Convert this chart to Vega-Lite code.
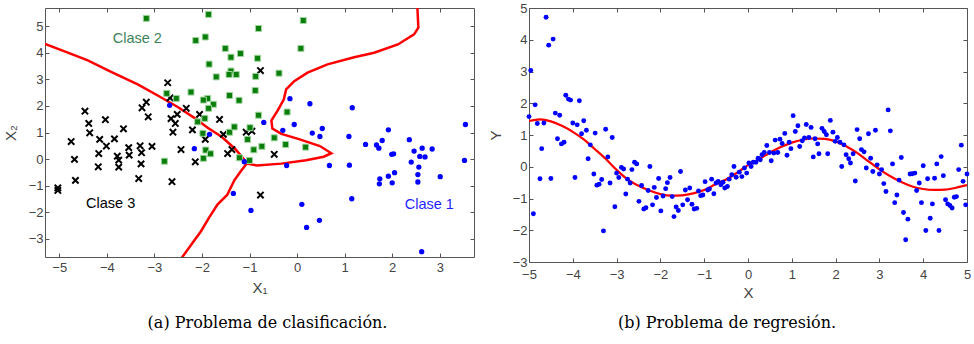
{
  "$schema": "https://vega.github.io/schema/vega-lite/v6.json",
  "padding": {"left": 2, "top": 1, "right": 0, "bottom": 0},
  "background": "white",
  "bounds": "flush",
  "spacing": 55,
  "config": {
    "view": {"stroke": "#555", "strokeWidth": 1},
    "axis": {"grid": false, "domain": false, "tickColor": "#555", "tickSize": -4, "labelFont": "Liberation Sans", "labelFontSize": 13, "labelColor": "#444", "titleFont": "Liberation Sans", "titleFontSize": 15, "titleFontWeight": "normal", "titleColor": "#444", "labelFlush": false, "labelOverlap": false},
    "title": {"font": "DejaVu Serif", "fontSize": 16, "fontWeight": "normal", "color": "#000"}
  },
  "datasets": {
    "c1": [
      {"x": -2.68, "y": 2.02}, {"x": -1.84, "y": 0.93}, {"x": -2.16, "y": 0.39}, {"x": -1.11, "y": -0.1}, {"x": -1.34, "y": -1.29}, {"x": -0.97, "y": -1.93},
      {"x": -0.15, "y": 2.27}, {"x": 0.27, "y": 2.08}, {"x": 1.16, "y": 1.93}, {"x": -0.7, "y": 1.38}, {"x": -0.3, "y": 1.08}, {"x": -0.06, "y": 1.3},
      {"x": 0.32, "y": 0.98}, {"x": 0.53, "y": 1.15}, {"x": 0.48, "y": 0.85}, {"x": 1.09, "y": 0.85}, {"x": 1.92, "y": 1.1}, {"x": 1.44, "y": 0.55},
      {"x": 1.67, "y": 0.53}, {"x": 1.72, "y": 0.41}, {"x": 1.79, "y": 0.7}, {"x": 2.36, "y": 0.73}, {"x": 2.46, "y": 0.3}, {"x": 2.63, "y": 0.41},
      {"x": 2.84, "y": 0.38}, {"x": 3.54, "y": 1.3}, {"x": -0.22, "y": -0.24}, {"x": 0.68, "y": -0.24}, {"x": 1.1, "y": -0.23}, {"x": 0.1, "y": -1.7},
      {"x": 1.15, "y": -1.49}, {"x": 0.47, "y": -2.3}, {"x": 0.2, "y": -2.57}, {"x": 1.99, "y": 0.18}, {"x": 2.03, "y": 0.2}, {"x": 2.58, "y": 0.1},
      {"x": 2.69, "y": 0.08}, {"x": 2.4, "y": -0.11}, {"x": 2.56, "y": -0.3}, {"x": 2.05, "y": -0.51}, {"x": 1.92, "y": -0.64}, {"x": 1.74, "y": -0.74},
      {"x": 1.73, "y": -0.93}, {"x": 2.0, "y": -0.89}, {"x": 2.54, "y": -0.58}, {"x": 2.54, "y": -0.86}, {"x": 3.01, "y": -0.66}, {"x": 3.52, "y": -0.05},
      {"x": 2.62, "y": -3.48}
    ],
    "c2": [
      {"x": -3.17, "y": 5.29}, {"x": -1.86, "y": 5.44}, {"x": -1.93, "y": 4.59}, {"x": -2.13, "y": 4.46}, {"x": -1.51, "y": 4.16}, {"x": -1.39, "y": 3.83},
      {"x": -1.19, "y": 3.97}, {"x": -1.85, "y": 3.57}, {"x": -1.7, "y": 3.09}, {"x": -1.39, "y": 3.31}, {"x": -1.43, "y": 3.18}, {"x": -1.28, "y": 3.18},
      {"x": -2.23, "y": 2.52}, {"x": -2.74, "y": 2.47}, {"x": -2.54, "y": 2.28}, {"x": -1.88, "y": 2.28}, {"x": -1.97, "y": 2.22}, {"x": -1.76, "y": 2.06},
      {"x": -1.86, "y": 1.91}, {"x": -1.42, "y": 2.39}, {"x": -1.22, "y": 2.21}, {"x": -2.09, "y": 1.4}, {"x": -1.94, "y": 1.53}, {"x": -1.98, "y": 0.97},
      {"x": -1.42, "y": 1.01}, {"x": -1.32, "y": 1.21}, {"x": -1.04, "y": 0.74}, {"x": -1.92, "y": 0.34}, {"x": 0.13, "y": 5.21}, {"x": -0.81, "y": 4.91},
      {"x": 0.08, "y": 4.16}, {"x": -0.83, "y": 3.79}, {"x": -0.87, "y": 3.11}, {"x": -0.38, "y": 3.23}, {"x": -0.88, "y": 2.58}, {"x": -0.21, "y": 1.77},
      {"x": -0.81, "y": 1.65}, {"x": -0.48, "y": 0.8}, {"x": -0.24, "y": 0.55}, {"x": -0.74, "y": 0.48}, {"x": 0.18, "y": 0.45}, {"x": -0.91, "y": 0.35},
      {"x": -0.99, "y": 1.18}, {"x": -2.79, "y": -0.08}, {"x": -1.82, "y": 0.2}, {"x": -1.97, "y": 0.03}, {"x": -1.21, "y": 0.05}, {"x": -1.0, "y": -0.05}
    ],
    "c3": [
      {"x": -2.72, "y": 2.87}, {"x": -2.67, "y": 2.3}, {"x": -3.17, "y": 2.14}, {"x": -3.26, "y": 1.93}, {"x": -3.13, "y": 1.59}, {"x": -4.46, "y": 1.8},
      {"x": -4.38, "y": 1.34}, {"x": -4.03, "y": 1.48}, {"x": -4.36, "y": 0.99}, {"x": -3.65, "y": 1.14}, {"x": -4.15, "y": 0.74}, {"x": -3.84, "y": 0.76},
      {"x": -4.01, "y": 0.49}, {"x": -4.75, "y": 0.66}, {"x": -3.54, "y": 0.43}, {"x": -3.3, "y": 0.5}, {"x": -3.05, "y": 0.48}, {"x": -2.65, "y": 1.52},
      {"x": -2.52, "y": 1.68}, {"x": -2.56, "y": 1.34}, {"x": -2.61, "y": 1.01}, {"x": -2.33, "y": 1.91}, {"x": -2.05, "y": 1.68}, {"x": -2.2, "y": 1.1},
      {"x": -1.63, "y": 1.49}, {"x": -1.55, "y": 0.93}, {"x": -1.93, "y": 0.74}, {"x": -2.44, "y": 0.36}, {"x": -1.07, "y": 1.01}, {"x": -1.37, "y": 0.36},
      {"x": -4.17, "y": 0.21}, {"x": -4.68, "y": -0.01}, {"x": -4.18, "y": -0.29}, {"x": -4.66, "y": -0.8}, {"x": -5.03, "y": -1.08}, {"x": -5.03, "y": -1.18},
      {"x": -3.78, "y": 0.11}, {"x": -3.75, "y": -0.04}, {"x": -3.75, "y": -0.3}, {"x": -3.53, "y": 0.15}, {"x": -3.27, "y": 0.24}, {"x": -3.28, "y": -0.18},
      {"x": -3.33, "y": -0.73}, {"x": -2.63, "y": -0.85}, {"x": -2.14, "y": -0.1}, {"x": -1.46, "y": 0.21}, {"x": -0.77, "y": 3.33}, {"x": -0.95, "y": 1.05},
      {"x": -0.48, "y": 0.18}, {"x": -0.77, "y": -1.35}
    ],
    "bound": [
      {"seg": "A", "i": 1, "x": -5.3, "y": 4.33}, {"seg": "A", "i": 2, "x": -4.82, "y": 4.0}, {"seg": "A", "i": 3, "x": -4.4, "y": 3.71},
      {"seg": "A", "i": 4, "x": -3.91, "y": 3.28}, {"seg": "A", "i": 5, "x": -3.35, "y": 2.81}, {"seg": "A", "i": 6, "x": -2.93, "y": 2.39},
      {"seg": "A", "i": 7, "x": -2.51, "y": 1.96}, {"seg": "A", "i": 8, "x": -2.16, "y": 1.55}, {"seg": "A", "i": 9, "x": -1.88, "y": 1.18},
      {"seg": "A", "i": 10, "x": -1.58, "y": 0.83}, {"seg": "A", "i": 11, "x": -1.3, "y": 0.38}, {"seg": "A", "i": 12, "x": -1.12, "y": 0.0},
      {"seg": "A", "i": 13, "x": -1.06, "y": -0.17},
      {"seg": "B", "i": 1, "x": 2.53, "y": 5.7}, {"seg": "B", "i": 2, "x": 2.55, "y": 4.94}, {"seg": "B", "i": 3, "x": 2.46, "y": 4.69},
      {"seg": "B", "i": 4, "x": 2.12, "y": 4.31}, {"seg": "B", "i": 5, "x": 1.62, "y": 4.0}, {"seg": "B", "i": 6, "x": 1.2, "y": 3.83},
      {"seg": "B", "i": 7, "x": 0.64, "y": 3.56}, {"seg": "B", "i": 8, "x": 0.22, "y": 3.25}, {"seg": "B", "i": 9, "x": -0.06, "y": 2.93},
      {"seg": "B", "i": 10, "x": -0.23, "y": 2.62}, {"seg": "B", "i": 11, "x": -0.28, "y": 2.24}, {"seg": "B", "i": 12, "x": -0.4, "y": 1.85},
      {"seg": "B", "i": 13, "x": -0.54, "y": 1.45}, {"seg": "B", "i": 14, "x": -0.52, "y": 1.15}, {"seg": "B", "i": 15, "x": -0.33, "y": 0.95},
      {"seg": "B", "i": 16, "x": 0.04, "y": 0.75}, {"seg": "B", "i": 17, "x": 0.48, "y": 0.49}, {"seg": "B", "i": 18, "x": 0.72, "y": 0.22},
      {"seg": "B", "i": 19, "x": 0.56, "y": 0.09}, {"seg": "B", "i": 20, "x": 0.19, "y": -0.04}, {"seg": "B", "i": 21, "x": -0.33, "y": -0.17},
      {"seg": "B", "i": 22, "x": -0.84, "y": -0.24}, {"seg": "B", "i": 23, "x": -1.06, "y": -0.17},
      {"seg": "C", "i": 1, "x": -1.06, "y": -0.17}, {"seg": "C", "i": 2, "x": -1.18, "y": -0.45}, {"seg": "C", "i": 3, "x": -1.32, "y": -0.8},
      {"seg": "C", "i": 4, "x": -1.47, "y": -1.35}, {"seg": "C", "i": 5, "x": -1.67, "y": -1.7}, {"seg": "C", "i": 6, "x": -1.85, "y": -2.2},
      {"seg": "C", "i": 7, "x": -2.02, "y": -2.71}, {"seg": "C", "i": 8, "x": -2.2, "y": -3.15}, {"seg": "C", "i": 9, "x": -2.42, "y": -3.7}
    ],
    "labels": [
      {"x": -3.36, "y": 4.51, "label": "Clase 2"},
      {"x": -3.92, "y": -1.7, "label": "Clase 3"},
      {"x": 2.78, "y": -1.74, "label": "Clase 1"}
    ],
    "reg": [
      {"x": -4.61, "y": 4.71}, {"x": -4.45, "y": 4.02}, {"x": -4.55, "y": 3.83}, {"x": -4.96, "y": 3.03}, {"x": -4.86, "y": 1.95}, {"x": -5.0, "y": 1.58},
      {"x": -4.81, "y": 1.36}, {"x": -4.66, "y": 1.38}, {"x": -4.16, "y": 2.25}, {"x": -4.1, "y": 2.13}, {"x": -4.05, "y": 2.1}, {"x": -3.85, "y": 2.08},
      {"x": -4.4, "y": 1.69}, {"x": -4.3, "y": 1.62}, {"x": -4.0, "y": 1.38}, {"x": -3.9, "y": 1.32}, {"x": -3.75, "y": 1.45}, {"x": -3.8, "y": 1.04},
      {"x": -3.69, "y": 1.15}, {"x": -3.49, "y": 1.06}, {"x": -3.25, "y": 1.18}, {"x": -3.1, "y": 0.92}, {"x": -4.35, "y": 0.88}, {"x": -4.26, "y": 0.72},
      {"x": -4.2, "y": 0.77}, {"x": -3.6, "y": 0.69}, {"x": -4.71, "y": 0.57},
      {"x": -4.9, "y": -1.48}, {"x": -4.75, "y": -0.38}, {"x": -4.5, "y": -0.37}, {"x": -3.95, "y": -0.34}, {"x": -3.65, "y": 0.25}, {"x": -3.52, "y": -0.23},
      {"x": -3.45, "y": -0.58}, {"x": -3.4, "y": -0.55}, {"x": -3.34, "y": -0.4}, {"x": -3.2, "y": 0.31}, {"x": -3.15, "y": -0.51}, {"x": -3.3, "y": -2.02},
      {"x": -3.04, "y": -1.26}, {"x": -3.0, "y": -0.2}, {"x": -2.95, "y": -0.34}, {"x": -2.89, "y": -0.02}, {"x": -2.84, "y": -0.07}, {"x": -2.75, "y": -0.39},
      {"x": -2.79, "y": -0.86}, {"x": -2.69, "y": -0.51}, {"x": -2.65, "y": -0.09}, {"x": -2.59, "y": 0.14}, {"x": -2.54, "y": 0.09}, {"x": -2.49, "y": -1.09},
      {"x": -2.43, "y": -0.59}, {"x": -2.38, "y": -1.33}, {"x": -2.33, "y": -1.29}, {"x": -2.28, "y": -0.75}, {"x": -2.24, "y": 0.01}, {"x": -2.18, "y": -1.2},
      {"x": -2.14, "y": -0.65}, {"x": -2.09, "y": -0.97}, {"x": -2.04, "y": -0.37}, {"x": -1.99, "y": -1.39}, {"x": -1.94, "y": -0.92}, {"x": -1.88, "y": -0.69},
      {"x": -1.84, "y": -0.5}, {"x": -1.78, "y": -0.34}, {"x": -1.73, "y": -0.94}, {"x": -1.69, "y": -1.57}, {"x": -1.64, "y": -1.27}, {"x": -1.59, "y": -1.38},
      {"x": -1.54, "y": -0.15}, {"x": -1.49, "y": -1.2}, {"x": -1.43, "y": -0.73}, {"x": -1.38, "y": -1.04}, {"x": -1.33, "y": -0.67}, {"x": -1.28, "y": -1.18},
      {"x": -1.23, "y": -1.33}, {"x": -1.17, "y": -1.31}, {"x": -1.13, "y": -0.76}, {"x": -1.08, "y": -0.91}, {"x": -1.03, "y": -0.89}, {"x": -0.98, "y": -0.47},
      {"x": -0.92, "y": -0.73}, {"x": -0.88, "y": -0.7}, {"x": -0.83, "y": -0.39}, {"x": -0.78, "y": -0.85}, {"x": -0.73, "y": -0.51}, {"x": -0.68, "y": -0.46},
      {"x": -0.62, "y": -0.57}, {"x": -0.57, "y": -0.49}, {"x": -0.53, "y": -0.67}, {"x": -0.47, "y": -0.62}, {"x": -0.43, "y": -0.39}, {"x": -0.37, "y": -0.25},
      {"x": -0.32, "y": 0.01}, {"x": -0.27, "y": -0.33},
      {"x": -0.2, "y": -0.17}, {"x": -0.14, "y": -0.31}, {"x": -0.08, "y": -0.04}, {"x": -0.03, "y": -0.2}, {"x": 0.02, "y": 0.12}, {"x": 0.07, "y": 0.01},
      {"x": 0.12, "y": 0.14}, {"x": 0.18, "y": 0.14}, {"x": 0.23, "y": 0.27}, {"x": 0.28, "y": 0.22}, {"x": 0.32, "y": 0.38}, {"x": 0.37, "y": 0.45},
      {"x": 0.49, "y": 0.45}, {"x": 0.53, "y": 0.19}, {"x": 0.59, "y": 0.43}, {"x": 0.68, "y": 0.45}, {"x": 0.89, "y": 0.36}, {"x": 1.49, "y": 0.31},
      {"x": 1.62, "y": 0.41}, {"x": 1.82, "y": 0.41}, {"x": 2.14, "y": 0.01}, {"x": 2.24, "y": 0.38}, {"x": 2.3, "y": 0.25}, {"x": 2.34, "y": 0.12},
      {"x": 2.4, "y": 0.41}, {"x": 2.45, "y": -0.45}, {"x": 2.65, "y": 0.47}, {"x": 2.7, "y": -0.04}, {"x": 2.8, "y": 0.27}, {"x": 2.85, "y": -0.15},
      {"x": 2.95, "y": 0.06}, {"x": 3.0, "y": -0.23}, {"x": 3.05, "y": -0.09}, {"x": 3.1, "y": -0.53}, {"x": 3.15, "y": -0.78}, {"x": 3.3, "y": 0.09},
      {"x": 3.35, "y": -1.13}, {"x": 3.4, "y": -0.89}, {"x": 3.45, "y": -0.42}, {"x": 3.5, "y": 0.29}, {"x": 3.55, "y": -1.44}, {"x": 3.6, "y": -2.3},
      {"x": 3.65, "y": -1.65}, {"x": 3.7, "y": -0.23}, {"x": 3.75, "y": -0.22}, {"x": 3.81, "y": -0.2}, {"x": 3.85, "y": -0.75}, {"x": 3.91, "y": -0.51},
      {"x": 3.96, "y": -1.13}, {"x": 4.0, "y": 0.03}, {"x": 4.06, "y": -2.01}, {"x": 4.1, "y": -0.38}, {"x": 4.16, "y": -1.62}, {"x": 4.21, "y": -1.17},
      {"x": 4.26, "y": -0.36}, {"x": 4.31, "y": 0.09}, {"x": 4.36, "y": -2.01}, {"x": 4.41, "y": 0.32}, {"x": 4.46, "y": -0.28}, {"x": 4.51, "y": -1.04},
      {"x": 4.56, "y": -1.17}, {"x": 4.61, "y": -1.22}, {"x": 4.66, "y": -1.3}, {"x": 4.71, "y": -0.96}, {"x": 4.76, "y": -0.94}, {"x": 4.81, "y": -0.09},
      {"x": 4.91, "y": -0.46}, {"x": 4.97, "y": -1.2}, {"x": 5.0, "y": -0.23},
      {"x": 0.43, "y": 0.67}, {"x": 0.62, "y": 0.84}, {"x": 0.73, "y": 0.87}, {"x": 0.78, "y": 0.73}, {"x": 0.84, "y": 1.05}, {"x": 0.94, "y": 0.77},
      {"x": 0.98, "y": 0.57}, {"x": 1.03, "y": 1.61}, {"x": 1.08, "y": 1.11}, {"x": 1.14, "y": 1.29}, {"x": 1.18, "y": 0.64}, {"x": 1.24, "y": 0.82},
      {"x": 1.29, "y": 0.91}, {"x": 1.33, "y": 1.33}, {"x": 1.39, "y": 0.92}, {"x": 1.44, "y": 1.24}, {"x": 1.53, "y": 0.88}, {"x": 1.59, "y": 0.72},
      {"x": 1.69, "y": 1.21}, {"x": 1.74, "y": 1.11}, {"x": 1.79, "y": 1.01}, {"x": 1.88, "y": 1.46}, {"x": 1.94, "y": 1.09}, {"x": 1.99, "y": 0.8},
      {"x": 2.04, "y": 0.92}, {"x": 2.1, "y": 0.77}, {"x": 2.19, "y": 0.69}, {"x": 2.49, "y": 1.17}, {"x": 2.55, "y": 0.88}, {"x": 2.59, "y": 0.54},
      {"x": 2.75, "y": 1.04}, {"x": 2.91, "y": 1.15}, {"x": 3.2, "y": 1.79}, {"x": 3.25, "y": 1.13}, {"x": 4.87, "y": 0.68}
    ],
    "curve": [
      {"x": -5, "y": 1.44}, {"x": -4.75, "y": 1.49}, {"x": -4.5, "y": 1.43}, {"x": -4.25, "y": 1.29}, {"x": -4, "y": 1.1}, {"x": -3.75, "y": 0.86},
      {"x": -3.5, "y": 0.56}, {"x": -3.25, "y": 0.25}, {"x": -3, "y": -0.1}, {"x": -2.75, "y": -0.4}, {"x": -2.5, "y": -0.6}, {"x": -2.25, "y": -0.75},
      {"x": -2, "y": -0.86}, {"x": -1.75, "y": -0.91}, {"x": -1.5, "y": -0.9}, {"x": -1.25, "y": -0.84}, {"x": -1, "y": -0.73}, {"x": -0.75, "y": -0.56},
      {"x": -0.5, "y": -0.4}, {"x": -0.25, "y": -0.19}, {"x": 0, "y": 0.05}, {"x": 0.25, "y": 0.24}, {"x": 0.5, "y": 0.44}, {"x": 0.75, "y": 0.62},
      {"x": 1, "y": 0.76}, {"x": 1.25, "y": 0.85}, {"x": 1.5, "y": 0.89}, {"x": 1.75, "y": 0.88}, {"x": 2, "y": 0.8}, {"x": 2.25, "y": 0.64},
      {"x": 2.5, "y": 0.43}, {"x": 2.75, "y": 0.17}, {"x": 3, "y": -0.08}, {"x": 3.25, "y": -0.3}, {"x": 3.5, "y": -0.48}, {"x": 3.75, "y": -0.62},
      {"x": 4, "y": -0.7}, {"x": 4.25, "y": -0.73}, {"x": 4.5, "y": -0.72}, {"x": 4.75, "y": -0.66}, {"x": 5, "y": -0.58}
    ]
  },
  "hconcat": [
    {
      "width": 429,
      "height": 249,
      "title": {"text": "(a) Problema de clasificación.", "orient": "bottom", "anchor": "middle", "offset": 20, "dx": 8},
      "layer": [
        {
          "data": {"name": "bound"},
          "mark": {"type": "line", "stroke": "#ff0000", "strokeWidth": 2.5, "clip": true},
          "encoding": {
            "x": {"field": "x", "type": "quantitative", "scale": {"domain": [-5.3, 3.72], "nice": false, "zero": false},
                  "axis": {"orient": "bottom", "values": [-5, -4, -3, -2, -1, 0, 1, 2, 3], "title": "X₁", "labelPadding": 8, "titlePadding": 6}},
            "y": {"field": "y", "type": "quantitative", "scale": {"domain": [-3.68, 5.68], "nice": false, "zero": false},
                  "axis": {"orient": "left", "values": [-3, -2, -1, 0, 1, 2, 3, 4, 5], "title": "X₂", "labelPadding": 6, "titlePadding": 10}},
            "detail": {"field": "seg"},
            "order": {"field": "i", "type": "quantitative"}
          }
        },
        {
          "data": {"name": "c3"},
          "mark": {"type": "point", "shape": "M-1,-1L1,1M-1,1L1,-1", "filled": false, "stroke": "#000", "strokeWidth": 2, "size": 40, "opacity": 1},
          "encoding": {
            "x": {"field": "x", "type": "quantitative", "scale": {"domain": [-5.3, 3.72], "nice": false, "zero": false},
                  "axis": {"orient": "top", "values": [-5, -4, -3, -2, -1, 0, 1, 2, 3], "labels": false, "title": null}},
            "y": {"field": "y", "type": "quantitative", "scale": {"domain": [-3.68, 5.68], "nice": false, "zero": false},
                  "axis": {"orient": "right", "values": [-3, -2, -1, 0, 1, 2, 3, 4, 5], "labels": false, "title": null}}
          }
        },
        {
          "data": {"name": "c2"},
          "mark": {"type": "square", "fill": "#0b7d0b", "stroke": "#9ed69e", "strokeWidth": 1, "size": 36, "opacity": 1},
          "encoding": {
            "x": {"field": "x", "type": "quantitative", "scale": {"domain": [-5.3, 3.72], "nice": false, "zero": false}, "axis": null},
            "y": {"field": "y", "type": "quantitative", "scale": {"domain": [-3.68, 5.68], "nice": false, "zero": false}, "axis": null}
          }
        },
        {
          "data": {"name": "c1"},
          "mark": {"type": "circle", "fill": "#0000ff", "size": 28, "opacity": 1},
          "encoding": {
            "x": {"field": "x", "type": "quantitative", "scale": {"domain": [-5.3, 3.72], "nice": false, "zero": false}, "axis": null},
            "y": {"field": "y", "type": "quantitative", "scale": {"domain": [-3.68, 5.68], "nice": false, "zero": false}, "axis": null}
          }
        },
        {
          "data": {"name": "labels"},
          "mark": {"type": "text", "font": "Liberation Sans", "fontSize": 14.5, "align": "center", "baseline": "middle"},
          "encoding": {
            "x": {"field": "x", "type": "quantitative", "scale": {"domain": [-5.3, 3.72], "nice": false, "zero": false}, "axis": null},
            "y": {"field": "y", "type": "quantitative", "scale": {"domain": [-3.68, 5.68], "nice": false, "zero": false}, "axis": null},
            "text": {"field": "label"},
            "color": {"field": "label", "type": "nominal", "scale": {"domain": ["Clase 1", "Clase 2", "Clase 3"], "range": ["#1f1fff", "#3c8259", "#000000"]}, "legend": null}
          }
        }
      ],
      "resolve": {"axis": {"x": "independent", "y": "independent"}}
    },
    {
      "width": 438,
      "height": 254,
      "title": {"text": "(b) Problema de regresión.", "orient": "bottom", "anchor": "middle", "offset": 15, "dx": -21},
      "layer": [
        {
          "data": {"name": "curve"},
          "mark": {"type": "line", "stroke": "#ff0000", "strokeWidth": 2.2, "interpolate": "monotone", "clip": true},
          "encoding": {
            "x": {"field": "x", "type": "quantitative", "scale": {"domain": [-5, 5], "nice": false, "zero": false},
                  "axis": {"orient": "bottom", "values": [-5, -4, -3, -2, -1, 0, 1, 2, 3, 4, 5], "title": "X", "labelPadding": 10, "titlePadding": 4}},
            "y": {"field": "y", "type": "quantitative", "scale": {"domain": [-3, 5], "nice": false, "zero": false},
                  "axis": {"orient": "left", "values": [-3, -2, -1, 0, 1, 2, 3, 4, 5], "title": "Y", "labelPadding": 6, "titlePadding": 9}}
          }
        },
        {
          "data": {"name": "reg"},
          "mark": {"type": "circle", "fill": "#0000ff", "size": 24, "opacity": 1},
          "encoding": {
            "x": {"field": "x", "type": "quantitative", "scale": {"domain": [-5, 5], "nice": false, "zero": false},
                  "axis": {"orient": "top", "values": [-5, -4, -3, -2, -1, 0, 1, 2, 3, 4, 5], "labels": false, "title": null}},
            "y": {"field": "y", "type": "quantitative", "scale": {"domain": [-3, 5], "nice": false, "zero": false},
                  "axis": {"orient": "right", "values": [-3, -2, -1, 0, 1, 2, 3, 4, 5], "labels": false, "title": null}}
          }
        }
      ],
      "resolve": {"axis": {"x": "independent", "y": "independent"}}
    }
  ]
}
